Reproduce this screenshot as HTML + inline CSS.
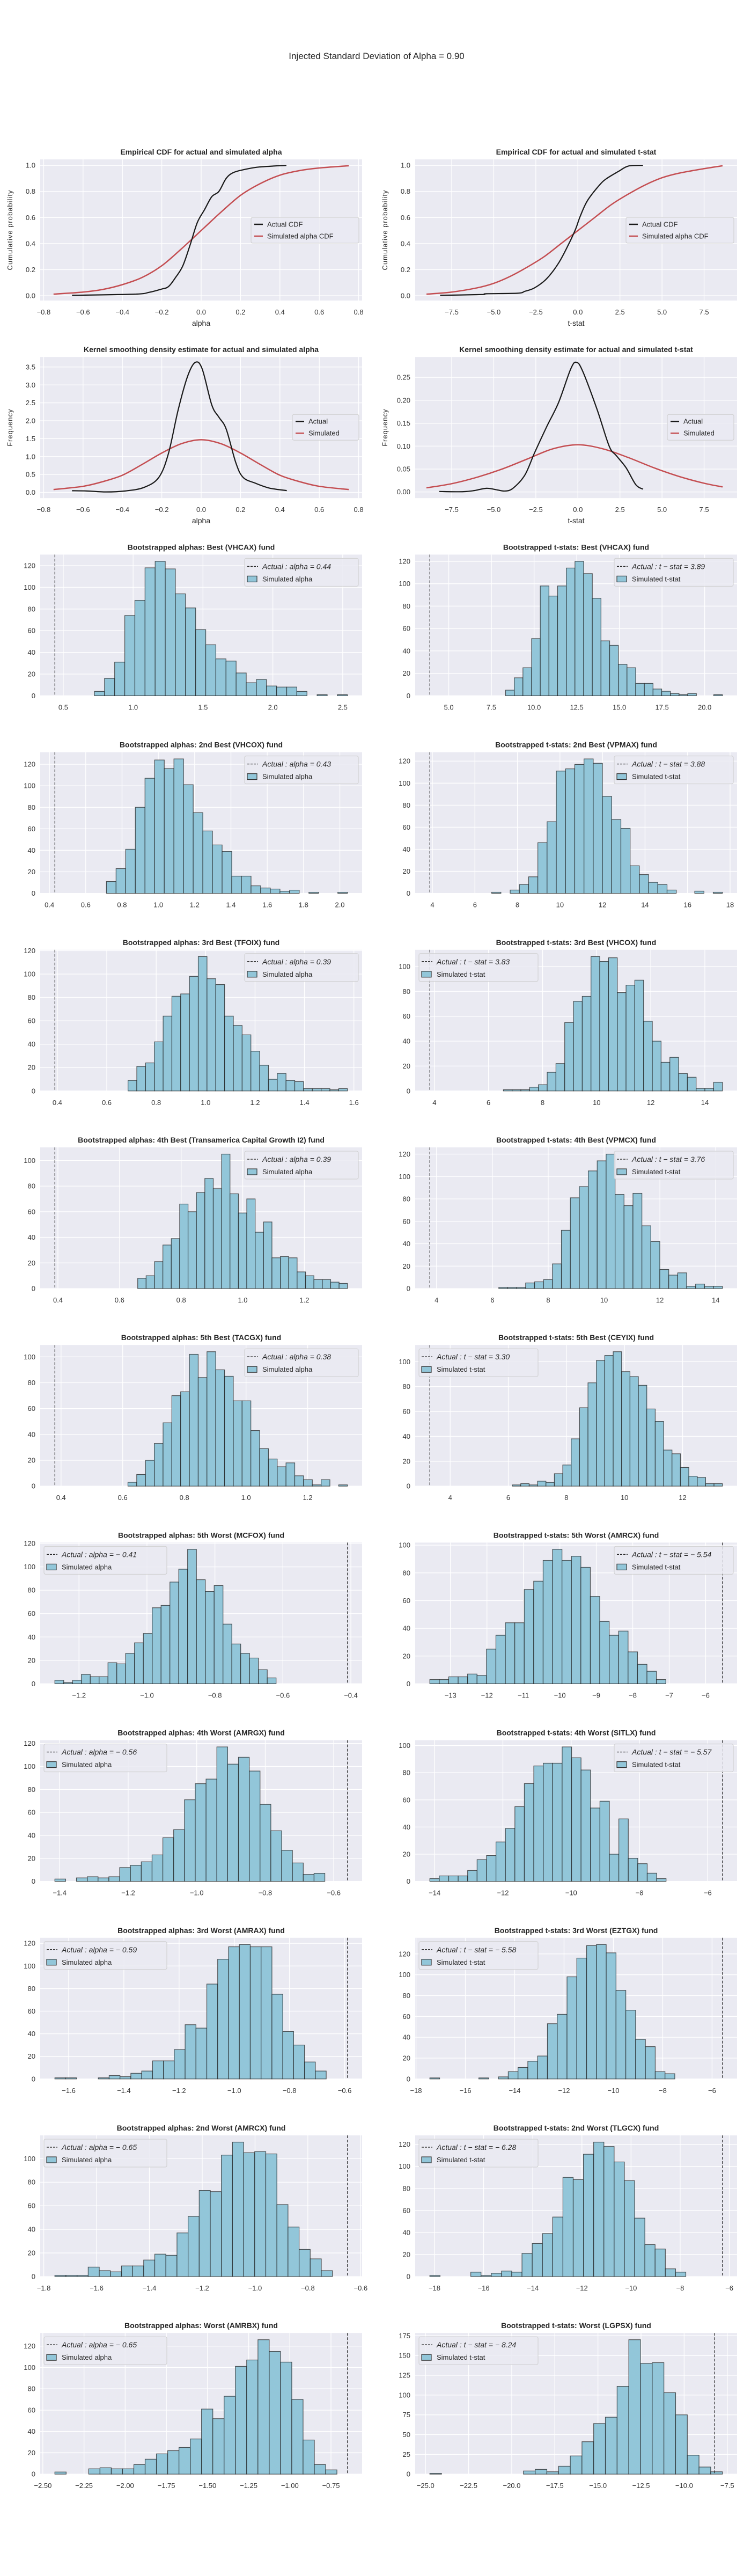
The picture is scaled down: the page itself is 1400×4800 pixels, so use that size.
<!DOCTYPE html>
<html><head><meta charset="utf-8"><style>
html,body{margin:0;padding:0;background:#fff;}
svg{display:block;font-family:"Liberation Sans",Arial,sans-serif;}
</style></head><body>
<svg id="fig" width="1400" height="4800" viewBox="0 0 1400 4800" xmlns="http://www.w3.org/2000/svg">
<text x="702" y="110" text-anchor="middle" font-size="17" fill="#262626">Injected Standard Deviation of Alpha = 0.90</text>
</svg>
<script>
// ---- CDF data ----
const cdfAlphaActualX=[-0.656,-0.338,-0.264,-0.203,-0.166,-0.130,-0.093,-0.056,-0.020,0.017,0.054,0.090,0.127,0.164,0.225,0.298,0.433];
const cdfAlphaActualY=[0.003,0.012,0.026,0.05,0.07,0.14,0.23,0.39,0.56,0.66,0.76,0.80,0.90,0.945,0.97,0.988,1.0];
const cdfAlphaSimX=[-0.75,-0.6,-0.5,-0.4,-0.3,-0.2,-0.1,0,0.1,0.2,0.3,0.4,0.5,0.6,0.75];
const cdfAlphaSimY=[0.012,0.028,0.048,0.085,0.14,0.23,0.36,0.5,0.64,0.77,0.86,0.925,0.96,0.98,0.997];
const cdfTActualX=[-8.19,-5.73,-5.44,-3.58,-3.15,-2.58,-1.86,-1.15,-0.57,-0.14,0.14,0.57,1.29,1.72,2.43,3.0,3.87];
const cdfTActualY=[0.003,0.009,0.015,0.019,0.034,0.06,0.13,0.25,0.39,0.51,0.61,0.73,0.85,0.90,0.955,0.995,1.0];
const cdfTSimX=[-9,-7.5,-6,-5,-4,-3,-2,-1,0,1,2,3,4,5,6,7.5,8.6];
const cdfTSimY=[0.012,0.028,0.06,0.095,0.15,0.22,0.30,0.40,0.5,0.6,0.7,0.78,0.85,0.905,0.94,0.975,0.997];
// ---- KDE data ----
const kdeAlphaActualX=[-0.656,-0.58,-0.484,-0.387,-0.29,-0.215,-0.166,-0.117,-0.069,-0.03,0.005,0.054,0.09,0.127,0.176,0.213,0.274,0.347,0.435];
const kdeAlphaActualY=[0.047,0.04,0.013,0.04,0.14,0.42,1.09,2.30,3.24,3.63,3.45,2.44,2.10,1.77,0.83,0.42,0.26,0.12,0.05];
const kdeAlphaSimX=[-0.75,-0.6,-0.5,-0.4,-0.3,-0.2,-0.1,0,0.1,0.2,0.3,0.4,0.5,0.6,0.75];
const kdeAlphaSimY=[0.08,0.17,0.3,0.48,0.78,1.1,1.36,1.47,1.36,1.1,0.78,0.48,0.3,0.17,0.08];
const kdeTActualX=[-8.24,-6.87,-6.16,-5.44,-4.87,-4.35,-3.86,-3.15,-2.58,-1.86,-1.15,-0.43,-0.09,0.29,1.15,1.86,2.29,2.86,3.44,3.87];
const kdeTActualY=[0.001,0.0005,0.003,0.008,0.005,0.002,0.008,0.037,0.085,0.142,0.195,0.268,0.283,0.263,0.179,0.10,0.079,0.053,0.016,0.006];
const kdeTSimX=[-9,-7.5,-6,-4.5,-3,-1.5,0,1.5,3,4.5,6,7.5,8.6];
const kdeTSimY=[0.009,0.018,0.032,0.05,0.072,0.094,0.103,0.094,0.075,0.053,0.034,0.019,0.011];
// ---- Histogram counts ----
const cBestA=[4,16,31,74,88,118,124,117,94,81,61,47,34,32,21,12,15,9,8,8,4,0,1,0,1];
const cBestT=[5,16,25,51,98,89,98,114,120,109,87,49,45,28,25,11,11,6,4,2,1,2,0,0,1];
const c2BestA=[11,23,41,80,107,124,116,125,101,75,58,45,39,16,16,7,5,4,2,3,0,1,0,0,1];
const c2BestT=[1,0,3,8,15,46,65,111,113,117,122,118,88,67,59,25,17,10,8,3,0,0,2,0,1];
const c3BestA=[9,21,24,42,64,81,83,98,115,96,91,64,56,48,34,22,10,15,9,8,2,2,2,1,2];
const c3BestT=[1,1,1,3,5,15,22,55,72,76,108,104,107,79,85,89,56,40,23,27,14,11,2,2,7];
const c4BestA=[8,10,21,34,39,66,60,75,86,78,105,74,59,70,44,52,24,25,24,13,10,7,7,5,4];
const c4BestT=[1,1,1,5,6,8,22,52,81,91,105,114,120,84,74,85,56,42,17,12,14,2,4,2,2];
const c5BestA=[3,9,20,33,49,70,73,102,84,104,90,85,66,66,43,29,21,15,18,8,5,1,5,0,1];
const c5BestT=[1,2,1,4,3,10,17,38,63,83,101,105,108,92,88,81,62,52,29,26,15,8,7,2,2];
const c5WorstA=[3,1,3,8,6,6,18,17,26,35,43,65,67,87,98,115,89,79,84,51,34,26,22,12,5];
const c5WorstT=[3,3,5,5,7,6,25,35,44,44,68,74,89,97,89,92,84,63,45,35,38,23,14,9,3];
const c4WorstA=[2,0,3,4,3,4,12,14,17,23,38,45,71,85,89,117,102,108,96,67,44,27,16,6,7];
const c4WorstT=[2,4,4,4,8,16,19,29,39,55,72,85,87,87,99,91,82,54,59,20,46,17,13,6,2];
const c3WorstA=[1,1,0,0,1,3,2,5,7,16,16,26,48,45,84,106,117,119,117,117,75,42,30,15,7];
const c3WorstT=[1,0,0,0,0,1,0,2,7,11,17,22,53,62,98,116,128,129,121,85,66,38,31,7,5];
const c2WorstA=[1,1,1,8,5,4,9,9,14,19,18,37,51,73,72,103,114,105,106,104,61,42,23,15,5];
const c2WorstT=[1,0,0,0,4,1,3,5,4,21,30,39,54,90,88,111,122,118,104,87,53,29,25,7,4];
const cWorstA=[2,0,0,5,6,5,5,9,14,19,22,25,33,61,52,73,101,107,126,115,105,70,32,9,4];
const cWorstT=[1,0,0,0,0,0,0,0,4,6,3,10,23,41,64,72,111,170,140,141,103,75,24,9,3];
// bin edges [first, last]
const eBestA=[0.723,2.534], eBestT=[8.33,21.04], e2BestA=[0.714,2.042], e2BestT=[6.79,17.64];
const e3BestA=[0.686,1.574], e3BestT=[6.55,14.65], e4BestA=[0.659,1.34], e4BestT=[6.23,14.24];
const e5BestA=[0.617,1.329], e5BestT=[6.14,13.37], e5WorstA=[-1.271,-0.62], e5WorstT=[-13.566,-7.092];
const e4WorstA=[-1.414,-0.626], e4WorstT=[-14.14,-7.22], e3WorstA=[-1.65,-0.667], e3WorstT=[-17.44,-7.51];
const e2WorstA=[-1.758,-0.707], e2WorstT=[-18.19,-7.77], eWorstA=[-2.427,-0.714], eWorstT=[-24.75,-7.78];
// actual values
const actualVals=[0.44,3.89,0.43,3.88,0.39,3.83,0.39,3.76,0.38,3.30,-0.41,-5.54,-0.56,-5.57,-0.59,-5.58,-0.65,-6.28,-0.65,-8.24];
// x tick labels
const xtBestA=[0.5,1.0,1.5,2.0,2.5], xtBestT=[5.0,7.5,10.0,12.5,15.0,17.5,20.0];
const xt2BestA=[0.4,0.6,0.8,1.0,1.2,1.4,1.6,1.8,2.0], xt2BestT=[4,6,8,10,12,14,16,18];
const xt3BestA=[0.4,0.6,0.8,1.0,1.2,1.4,1.6], xt3BestT=[4,6,8,10,12,14];
const xt4BestA=[0.4,0.6,0.8,1.0,1.2], xt4BestT=[4,6,8,10,12,14];
const xt5BestA=[0.4,0.6,0.8,1.0,1.2], xt5BestT=[4,6,8,10,12];
const xt5WorstA=[-1.2,-1.0,-0.8,-0.6,-0.4], xt5WorstT=[-13,-12,-11,-10,-9,-8,-7,-6];
const xt4WorstA=[-1.4,-1.2,-1.0,-0.8,-0.6], xt4WorstT=[-14,-12,-10,-8,-6];
const xt3WorstA=[-1.6,-1.4,-1.2,-1.0,-0.8,-0.6], xt3WorstT=[-18,-16,-14,-12,-10,-8,-6];
const xt2WorstA=[-1.8,-1.6,-1.4,-1.2,-1.0,-0.8,-0.6], xt2WorstT=[-18,-16,-14,-12,-10,-8,-6];
const xtWorstA=[-2.50,-2.25,-2.00,-1.75,-1.50,-1.25,-1.00,-0.75], xtWorstT=[-25.0,-22.5,-20.0,-17.5,-15.0,-12.5,-10.0,-7.5];
const titles=["Bootstrapped alphas: Best (VHCAX) fund","Bootstrapped t-stats: Best (VHCAX) fund",
"Bootstrapped alphas: 2nd Best (VHCOX) fund","Bootstrapped t-stats: 2nd Best (VPMAX) fund",
"Bootstrapped alphas: 3rd Best (TFOIX) fund","Bootstrapped t-stats: 3rd Best (VHCOX) fund",
"Bootstrapped alphas: 4th Best (Transamerica Capital Growth I2) fund","Bootstrapped t-stats: 4th Best (VPMCX) fund",
"Bootstrapped alphas: 5th Best (TACGX) fund","Bootstrapped t-stats: 5th Best (CEYIX) fund",
"Bootstrapped alphas: 5th Worst (MCFOX) fund","Bootstrapped t-stats: 5th Worst (AMRCX) fund",
"Bootstrapped alphas: 4th Worst (AMRGX) fund","Bootstrapped t-stats: 4th Worst (SITLX) fund",
"Bootstrapped alphas: 3rd Worst (AMRAX) fund","Bootstrapped t-stats: 3rd Worst (EZTGX) fund",
"Bootstrapped alphas: 2nd Worst (AMRCX) fund","Bootstrapped t-stats: 2nd Worst (TLGCX) fund",
"Bootstrapped alphas: Worst (AMRBX) fund","Bootstrapped t-stats: Worst (LGPSX) fund"];
const legendLeft=[0,0,0,0,0,1,0,0,0,1,1,0,1,0,1,1,1,1,1,1];
const histCounts=[cBestA,cBestT,c2BestA,c2BestT,c3BestA,c3BestT,c4BestA,c4BestT,c5BestA,c5BestT,c5WorstA,c5WorstT,c4WorstA,c4WorstT,c3WorstA,c3WorstT,c2WorstA,c2WorstT,cWorstA,cWorstT];
const histEdges=[eBestA,eBestT,e2BestA,e2BestT,e3BestA,e3BestT,e4BestA,e4BestT,e5BestA,e5BestT,e5WorstA,e5WorstT,e4WorstA,e4WorstT,e3WorstA,e3WorstT,e2WorstA,e2WorstT,eWorstA,eWorstT];
const histXTicks=[xtBestA,xtBestT,xt2BestA,xt2BestT,xt3BestA,xt3BestT,xt4BestA,xt4BestT,xt5BestA,xt5BestT,xt5WorstA,xt5WorstT,xt4WorstA,xt4WorstT,xt3WorstA,xt3WorstT,xt2WorstA,xt2WorstT,xtWorstA,xtWorstT];
const histXDec=[1,1,1,0,1,0,1,0,1,0,1,0,1,0,1,0,1,0,2,1];

const NS="http://www.w3.org/2000/svg";
const fig=document.getElementById('fig');
function mk(tag,attrs,parent,text){const e=document.createElementNS(NS,tag);for(const k in attrs)e.setAttribute(k,attrs[k]);if(text!==undefined)e.textContent=text;(parent||fig).appendChild(e);return e;}
function fmt(v,d){const s=Math.abs(v).toFixed(d);return (v<0?"\u2212":"")+s;}
const COLX=[75,774], AW=600, AH=263;
function rowTop(i){return 297+368.2*i;}

function axes(name,x0,y0,xlim,ylim,xticks,xdec,yticks,ydec){
  const g=mk('g',{});
  
  
  const sx=v=>x0+(v-xlim[0])/(xlim[1]-xlim[0])*AW;
  const sy=v=>y0+AH-(v-ylim[0])/(ylim[1]-ylim[0])*AH;
  const bg=mk('rect',{x:x0,y:y0,width:AW,height:AH,fill:'#eaeaf2'},g);
  
  
  xticks.forEach(t=>{const x=sx(t);if(x<x0-0.5||x>x0+AW+0.5)return;
    mk('line',{x1:x,x2:x,y1:y0,y2:y0+AH,stroke:'#fff','stroke-width':1.3},g);
    const tl=mk('text',{x:x,y:y0+AH+26,'text-anchor':'middle','font-size':13,fill:'#333'},g,fmt(t,xdec));
    
    });
  yticks.forEach(t=>{const y=sy(t);if(y<y0-0.5||y>y0+AH+0.5)return;
    mk('line',{x1:x0,x2:x0+AW,y1:y,y2:y,stroke:'#fff','stroke-width':1.3},g);
    const tl=mk('text',{x:x0-9,y:y+4.5,'text-anchor':'end','font-size':13,fill:'#333'},g,fmt(t,ydec));
    
    });
  return {g,sx,sy};
}
function smooth(xs,ys,sx,sy){
  const p=xs.map((x,i)=>[sx(x),sy(ys[i])]);let d=`M${p[0][0]},${p[0][1]}`;
  for(let i=0;i<p.length-1;i++){const p0=p[Math.max(0,i-1)],p1=p[i],p2=p[i+1],p3=p[Math.min(p.length-1,i+2)];
    const c1=[p1[0]+(p2[0]-p0[0])/6,p1[1]+(p2[1]-p0[1])/6],c2=[p2[0]-(p3[0]-p1[0])/6,p2[1]-(p3[1]-p1[1])/6];
    d+=` C${c1[0]},${c1[1]} ${c2[0]},${c2[1]} ${p2[0]},${p2[1]}`;}
  return d;
}
function title(x0,y0,t){const e=mk('text',{x:x0+AW/2,y:y0-9,'text-anchor':'middle','font-size':14,'font-weight':'bold',fill:'#262626'},fig,t);
  
  }
function lineLegend(g,bx,by,w,labels){
  const box=mk('rect',{x:bx,y:by,width:w,height:48,rx:3,fill:'#eaeaf2',stroke:'#ccc','stroke-width':1,'fill-opacity':0.8},g);
  
  
  const cols=['#1a1a1a','#c44e52'];
  labels.forEach((l,i)=>{const y=by+13+i*22;
    mk('line',{x1:bx+6,x2:bx+22,y1:y,y2:y,stroke:cols[i],'stroke-width':2.5},g);
    const t=mk('text',{x:bx+30,y:y+4.5,'font-size':13,fill:'#262626'},g,l);
    
    });
}
function curvePanel(row,col,name,xlim,ylim,xt,xdec,yt,ydec,ax,ay,sxs,sys,xlabel,ylabel,legW,legX,legY,labels){
  const x0=COLX[col],y0=rowTop(row);
  const A=axes(name,x0,y0,xlim,ylim,xt,xdec,yt,ydec);
  const l1=mk('path',{d:smooth(sxs,sys,A.sx,A.sy),fill:'none',stroke:'#c44e52','stroke-width':2.5},A.g);
  
  
  const l2=mk('path',{d:smooth(ax,ay,A.sx,A.sy),fill:'none',stroke:'#1a1a1a','stroke-width':2.2},A.g);
  
  
  lineLegend(A.g,x0+legX,y0+legY,legW,labels);
  const xl=mk('text',{x:x0+AW/2,y:y0+AH+47,'text-anchor':'middle','font-size':14,fill:'#262626'},A.g,xlabel);
  
  
  const yx=x0-52,yy=y0+AH/2;
  const yl=mk('text',{x:yx,y:yy,'text-anchor':'middle','font-size':13,fill:'#262626','letter-spacing':'1',transform:`rotate(-90 ${yx} ${yy})`},A.g,ylabel);
  
  
}
const r8=(a,b,s)=>{const o=[];for(let v=a;v<=b+1e-9;v+=s)o.push(+v.toFixed(6));return o;};
title(COLX[0],rowTop(0),"Empirical CDF for actual and simulated alpha");
title(COLX[1],rowTop(0),"Empirical CDF for actual and simulated t-stat");
curvePanel(0,0,'cdf-alpha-chart',[-0.8175,0.8175],[-0.037,1.046],r8(-0.8,0.8,0.2),1,r8(0,1,0.2),1,cdfAlphaActualX,cdfAlphaActualY,cdfAlphaSimX,cdfAlphaSimY,'alpha','Cumulative probability',201,393,108,['Actual CDF','Simulated alpha CDF']);
curvePanel(0,1,'cdf-tstat-chart',[-9.67,9.46],[-0.037,1.046],r8(-7.5,7.5,2.5),1,r8(0,1,0.2),1,cdfTActualX,cdfTActualY,cdfTSimX,cdfTSimY,'t-stat','Cumulative probability',201,393,108,['Actual CDF','Simulated alpha CDF']);
title(COLX[0],rowTop(1),"Kernel smoothing density estimate for actual and simulated alpha");
title(COLX[1],rowTop(1),"Kernel smoothing density estimate for actual and simulated t-stat");
curvePanel(1,0,'kde-alpha-chart',[-0.8175,0.8175],[-0.16,3.78],r8(-0.8,0.8,0.2),1,r8(0,3.5,0.5),1,kdeAlphaActualX,kdeAlphaActualY,kdeAlphaSimX,kdeAlphaSimY,'alpha','Frequency',124,470,107,['Actual','Simulated']);
curvePanel(1,1,'kde-tstat-chart',[-9.67,9.46],[-0.0135,0.2945],r8(-7.5,7.5,2.5),1,r8(0,0.25,0.05),2,kdeTActualX,kdeTActualY,kdeTSimX,kdeTSimY,'t-stat','Frequency',124,470,107,['Actual','Simulated']);

for(let p=0;p<20;p++){
  const row=2+Math.floor(p/2),col=p%2,isT=col===1;
  const x0=COLX[col],y0=rowTop(row);
  const counts=histCounts[p],lo=histEdges[p][0],hi=histEdges[p][1],act=actualVals[p];
  const mn=Math.min(lo,act),mx=Math.max(hi,act),r=mx-mn;
  const xlim=[mn-0.05*r,mx+0.05*r];
  const cmax=Math.max(...counts),ylim=[0,cmax*1.05];
  const step=ylim[1]>150?25:20;
  const A=axes(isT?'tstat-histogram':'alpha-histogram',x0,y0,xlim,ylim,histXTicks[p],histXDec[p],r8(0,ylim[1],step),0);
  title(x0,y0,titles[p]);
  const bw=(hi-lo)/counts.length;
  counts.forEach((c,i)=>{if(c<=0)return;
    const xa=A.sx(lo+i*bw),xb=A.sx(lo+(i+1)*bw),ya=A.sy(c);
    const b=mk('rect',{x:xa,y:ya,width:xb-xa,height:A.sy(0)-ya,fill:'#92c6d9',stroke:'rgba(30,30,30,0.75)','stroke-width':1.2},A.g);
    
    });
  const vx=A.sx(act);
  const vl=mk('line',{x1:vx,x2:vx,y1:y0,y2:y0+AH,stroke:'#1a1a1a','stroke-width':1.1,'stroke-dasharray':'5,3'},A.g);
  
  
  const lw=isT?(legendLeft[p]?222:222):212;
  const lw2=legendLeft[p]?(isT?222:229):lw;
  const bx=legendLeft[p]?x0+7:x0+AW-7-lw2,by=y0+7;
  const box=mk('rect',{x:bx,y:by,width:lw2,height:52,rx:3,fill:'#eaeaf2',stroke:'#ccc','stroke-width':1,'fill-opacity':0.85},A.g);
  
  
  mk('line',{x1:bx+5,x2:bx+25,y1:by+15,y2:by+15,stroke:'#1a1a1a','stroke-width':1.3,'stroke-dasharray':'4,2'},A.g);
  const lab=(isT?'Actual : t \u2212 stat = ':'Actual : alpha = ')+(act<0?'\u2212 ':'')+Math.abs(act).toFixed(2);
  const t1=mk('text',{x:bx+33,y:by+20,'font-size':14,'font-style':'italic',fill:'#262626'},A.g,lab);
  
  
  mk('rect',{x:bx+5,y:by+33,width:18,height:11,fill:'#92c6d9',stroke:'#333','stroke-width':1.2},A.g);
  const t2=mk('text',{x:bx+33,y:by+43,'font-size':13,fill:'#262626'},A.g,isT?'Simulated t-stat':'Simulated alpha');
  
  
}
</script>
</body></html>
